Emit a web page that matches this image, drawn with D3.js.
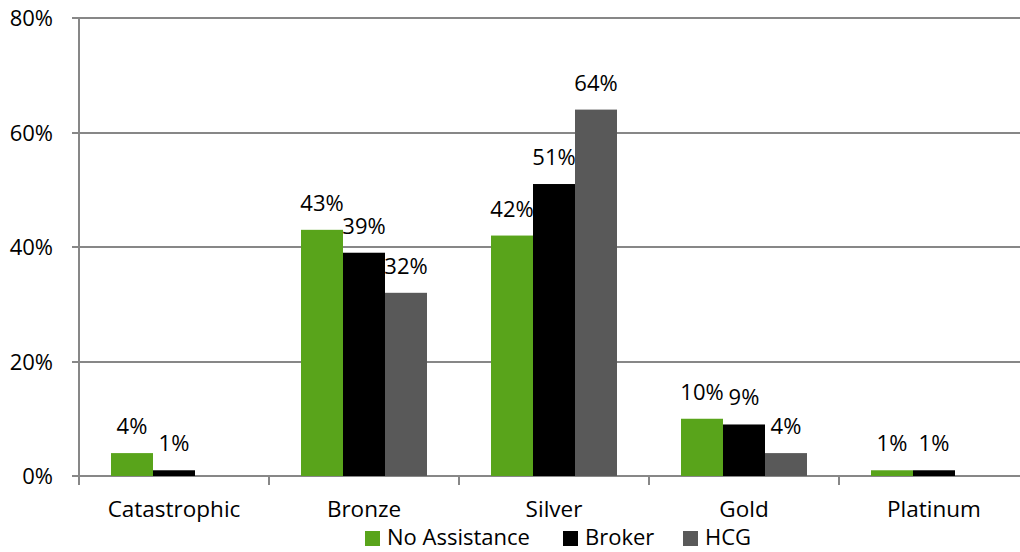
<!DOCTYPE html>
<html><head><meta charset="utf-8">
<script src="https://cdn.jsdelivr.net/npm/d3@7"></script>
<style>body{margin:0;background:#fff}svg{display:block}text{font-family:"Open Sans",sans-serif;fill:#000}</style>
</head><body><svg id="c" width="1020" height="552"></svg>
<script>
const categories = ["Catastrophic","Bronze","Silver","Gold","Platinum"];
const seriesNames = ["No Assistance","Broker","HCG"];
const noAssistance = [4,43,42,10,1];
const broker = [1,39,51,9,1];
const hcg = [null,32,64,4,null];
const yTicks = [0,20,40,60,80];
const colors = ["#59a41b","#000000","#595959"];
const seriesValues = [noAssistance, broker, hcg];

const svg = d3.select("#c");
const pL = 79, pR = 1029, pT = 18, pB = 476;
const x = d3.scaleBand().domain(categories).range([pL,pR]).paddingInner(0).paddingOuter(0);
const y = d3.scaleLinear().domain([0,80]).range([pB,pT]);
const bw = 42;
const xs = d3.scaleBand().domain(seriesNames).range([0,bw*3]);
const fs = "22px";

svg.append("g").selectAll("line").data(yTicks).join("line")
  .attr("x1",pL-7).attr("x2",pR).attr("y1",d=>y(d)).attr("y2",d=>y(d))
  .attr("stroke","#878787").attr("stroke-width",2).attr("shape-rendering","crispEdges");
svg.append("line").attr("x1",pL).attr("x2",pL).attr("y1",pT).attr("y2",pB+9)
  .attr("stroke","#878787").attr("stroke-width",2).attr("shape-rendering","crispEdges");
svg.append("g").selectAll("line").data(categories.slice(1)).join("line")
  .attr("x1",d=>x(d)).attr("x2",d=>x(d)).attr("y1",pB).attr("y2",pB+9)
  .attr("stroke","#878787").attr("stroke-width",2).attr("shape-rendering","crispEdges");
svg.append("g").selectAll("text").data(yTicks).join("text")
  .attr("x",pL-26).attr("y",d=>y(d)+8).attr("text-anchor","end")
  .style("font-size",fs).text(d=>d+"%");
svg.append("g").selectAll("text").data(categories).join("text")
  .attr("x",d=>x(d)+x.bandwidth()/2).attr("y",517).attr("text-anchor","middle")
  .style("font-size","22.5px").text(d=>d);

const flat = [];
categories.forEach((c,i)=>seriesNames.forEach((s,j)=>{
  const v = seriesValues[j][i];
  if (v!==null) flat.push({c,s,v,j});
}));
const g0 = x.bandwidth()/2 - bw*1.5;
svg.append("g").selectAll("rect").data(flat).join("rect")
  .attr("x",d=>x(d.c)+g0+xs(d.s)).attr("width",xs.bandwidth())
  .attr("y",d=>y(d.v)).attr("height",d=>pB-y(d.v))
  .attr("fill",d=>colors[d.j]);
svg.append("g").selectAll("text").data(flat).join("text")
  .attr("x",d=>x(d.c)+g0+xs(d.s)+xs.bandwidth()/2).attr("y",d=>y(d.v)-19)
  .attr("text-anchor","middle").style("font-size",fs).text(d=>d.v+"%");

const legX = [365,563,683];
const lg = svg.append("g").selectAll("g").data(seriesNames).join("g")
  .attr("transform",(d,i)=>`translate(${legX[i]},531)`);
lg.append("rect").attr("width",15).attr("height",15).attr("fill",(d,i)=>colors[i]);
lg.append("text").attr("x",22).attr("y",14).style("font-size","22px").text(d=>d);
</script></body></html>
